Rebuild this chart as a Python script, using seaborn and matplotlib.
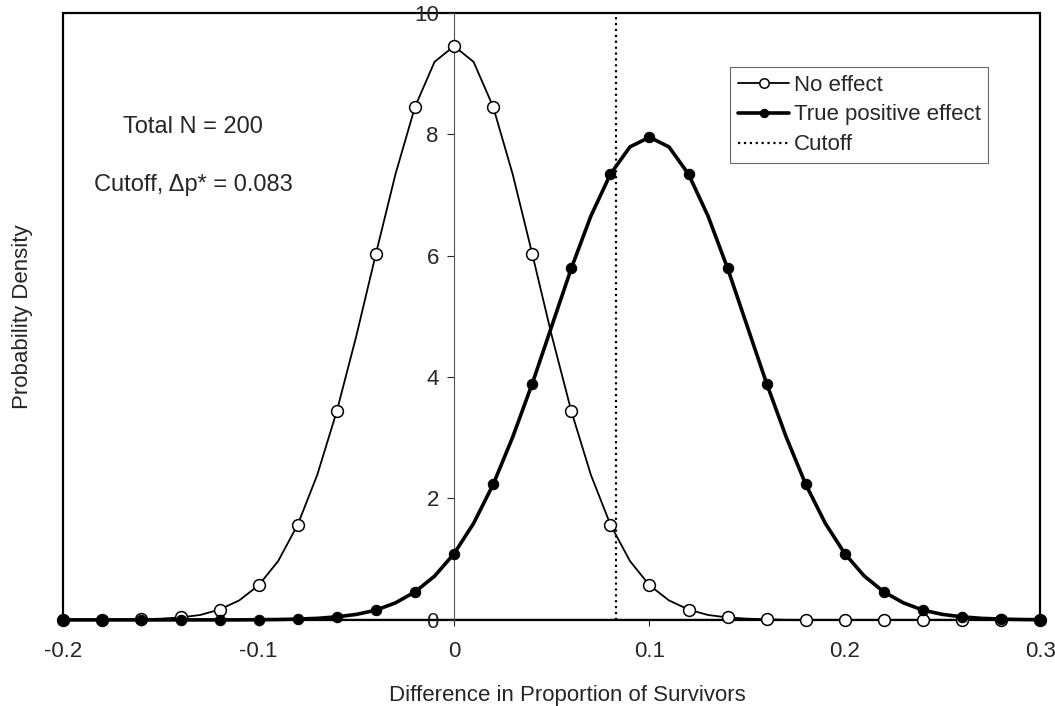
import numpy as np
import matplotlib
matplotlib.use("Agg")
import matplotlib.pyplot as plt
import seaborn as sns

# x grid (difference in proportion of survivors)
x_vals = [-0.20, -0.19, -0.18, -0.17, -0.16, -0.15, -0.14, -0.13, -0.12, -0.11,
          -0.10, -0.09, -0.08, -0.07, -0.06, -0.05, -0.04, -0.03, -0.02, -0.01,
          0.00, 0.01, 0.02, 0.03, 0.04, 0.05, 0.06, 0.07, 0.08, 0.09,
          0.10, 0.11, 0.12, 0.13, 0.14, 0.15, 0.16, 0.17, 0.18, 0.19,
          0.20, 0.21, 0.22, 0.23, 0.24, 0.25, 0.26, 0.27, 0.28, 0.29, 0.30]

no_effect = [0.0, 0.0, 0.0, 0.0, 0.01, 0.02, 0.04, 0.08, 0.17, 0.32,
             0.57, 0.97, 1.57, 2.39, 3.44, 4.68, 6.03, 7.34, 8.45, 9.19,
             9.45, 9.19, 8.45, 7.34, 6.03, 4.68, 3.44, 2.39, 1.57, 0.97,
             0.57, 0.32, 0.17, 0.08, 0.04, 0.02, 0.01, 0.0, 0.0, 0.0,
             0.0, 0.0, 0.0, 0.0, 0.0, 0.0, 0.0, 0.0, 0.0, 0.0, 0.0]

true_effect = [0.0, 0.0, 0.0, 0.0, 0.0, 0.0, 0.0, 0.0, 0.0, 0.0,
               0.003, 0.006, 0.013, 0.025, 0.05, 0.09, 0.16, 0.28, 0.46, 0.72,
               1.09, 1.59, 2.23, 3.01, 3.89, 4.84, 5.79, 6.65, 7.34, 7.79,
               7.95, 7.79, 7.34, 6.65, 5.79, 4.84, 3.89, 3.01, 2.23, 1.59,
               1.09, 0.72, 0.46, 0.28, 0.16, 0.09, 0.05, 0.025, 0.013, 0.006, 0.003]

cutoff = 0.083
x_ticks = [-0.2, -0.1, 0, 0.1, 0.2, 0.3]
x_tick_labels = ["-0.2", "-0.1", "0", "0.1", "0.2", "0.3"]
y_ticks = [0, 2, 4, 6, 8, 10]

sns.set_style("white")
plt.rcParams['font.family'] = ['Liberation Sans', 'DejaVu Sans']

fig = plt.figure(figsize=(10.55, 7.06), dpi=100)
ax = fig.add_axes([0.06, 0.122, 0.926, 0.860])

sns.lineplot(x=x_vals, y=no_effect, ax=ax, color='black', linewidth=1.3,
             marker='o', markevery=2, markersize=8.5, markerfacecolor='white',
             markeredgecolor='black', markeredgewidth=1.1, clip_on=False,
             label='No effect', sort=False, zorder=3)
sns.lineplot(x=x_vals, y=true_effect, ax=ax, color='black', linewidth=2.6,
             marker='o', markevery=2, markersize=7.5, markerfacecolor='black',
             markeredgecolor='black', clip_on=False,
             label='True positive effect', sort=False, zorder=4)
ax.plot([cutoff, cutoff], [0, 10], color='black', linestyle=':', linewidth=1.6,
        label='Cutoff', zorder=2)

ax.set_xlim(-0.2, 0.3)
ax.set_ylim(0, 10)

# y axis drawn through x = 0, frame drawn by the axes patch
for s in ['top', 'right', 'bottom']:
    ax.spines[s].set_visible(False)
ax.spines['left'].set_position(('data', 0))
ax.spines['left'].set_color('#555555')
ax.spines['left'].set_linewidth(0.8)
ax.patch.set_edgecolor('black')
ax.patch.set_linewidth(1.6)
ax.axhline(0, color='black', linewidth=1.6, zorder=1)

ax.set_xticks(x_ticks)
ax.set_xticklabels(x_tick_labels)
ax.set_yticks(y_ticks)
ax.tick_params(axis='y', direction='out', length=5, width=0.8, labelsize=16, pad=6, left=True)
ax.tick_params(axis='x', direction='out', length=4, width=0.8, labelsize=16, pad=11, bottom=True)

ax.set_xlabel('Difference in Proportion of Survivors', fontsize=16)
ax.set_ylabel('Probability Density', fontsize=16)
ax.xaxis.set_label_coords(0.516, -0.108)
ax.yaxis.set_label_coords(-0.031, 0.5)

ax.text(-0.1335, 8.12, 'Total N = 200', fontsize=17, ha='center', va='center')
ax.text(-0.1335, 7.16, 'Cutoff, \u0394p* = 0.083', fontsize=17, ha='center', va='center')

leg = ax.legend(loc='upper right', bbox_to_anchor=(0.947, 0.911), fontsize=16,
                frameon=True, fancybox=False, edgecolor='#444444',
                handlelength=2.3, handletextpad=0.2, borderpad=0.35,
                labelspacing=0.4, borderaxespad=0, markerscale=0.8)
leg.get_frame().set_linewidth(0.8)

fig.savefig('out.png', dpi=100)
